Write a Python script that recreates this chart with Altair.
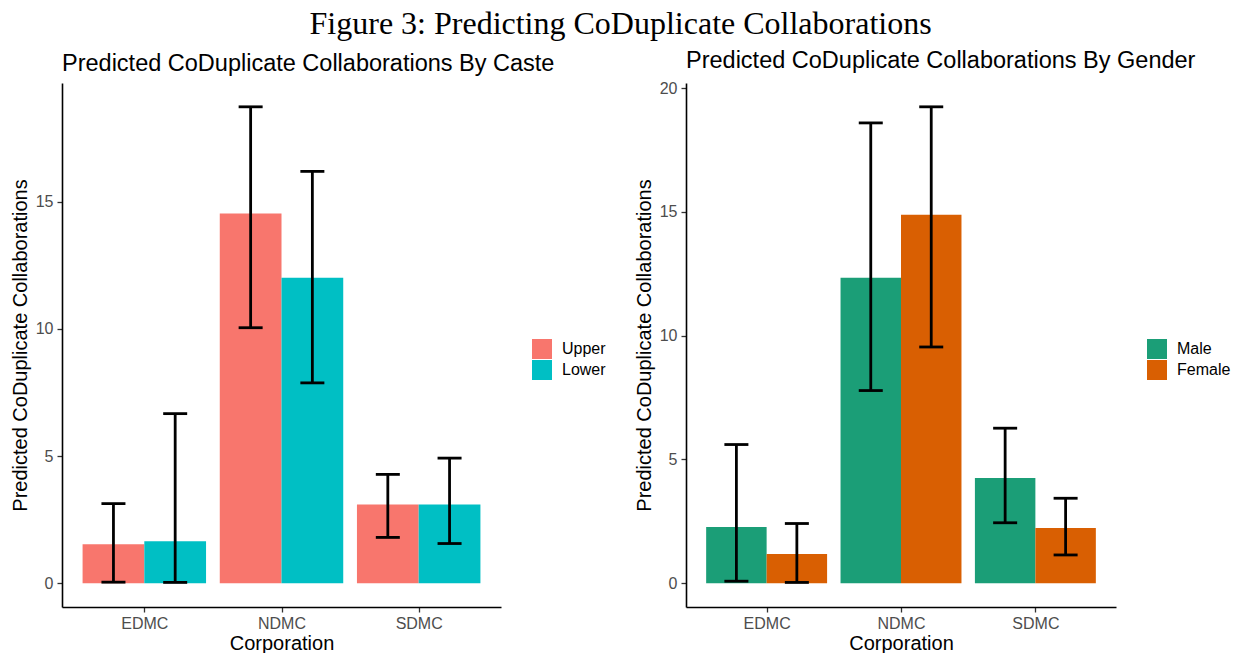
import altair as alt
import pandas as pd

# Corporations on the x axis
corporations = ["EDMC", "NDMC", "SDMC"]

# Predicted collaborations by caste, with confidence bounds
caste_groups = ["Upper", "Lower"]
caste_colors = ["#F8766D", "#00BFC4"]
upper_fit = [1.53, 14.54, 3.10]
upper_lo = [0.04, 10.05, 1.80]
upper_hi = [3.13, 18.74, 4.28]
lower_fit = [1.65, 12.02, 3.10]
lower_lo = [0.03, 7.88, 1.56]
lower_hi = [6.67, 16.20, 4.92]

# Predicted collaborations by gender, with confidence bounds
gender_groups = ["Male", "Female"]
gender_colors = ["#1B9E77", "#D95F02"]
male_fit = [2.27, 12.34, 4.25]
male_lo = [0.08, 7.78, 2.44]
male_hi = [5.60, 18.59, 6.26]
female_fit = [1.18, 14.88, 2.23]
female_lo = [0.03, 9.54, 1.14]
female_hi = [2.41, 19.24, 3.43]

FONT = "Liberation Sans"
DODGE = 0.9      # share of each category slot taken by its bars
EXPAND = 0.6     # discrete-axis expansion on either side


def build_frame(groups, fits, los, his):
    """Dodged bar layout: each corporation sits at 1, 2, 3 and its groups share DODGE."""
    bar_w = DODGE / len(groups)
    rows = []
    for j, (g, fit, lo, hi) in enumerate(zip(groups, fits, los, his)):
        for i, (c, f, l, h) in enumerate(zip(corporations, fit, lo, hi)):
            left = (i + 1) - DODGE / 2 + j * bar_w
            rows.append({
                "corporation": c, "group": g, "fit": f, "lo": l, "hi": h,
                "x0": left, "x1": left + bar_w, "xc": left + bar_w / 2,
            })
    return pd.DataFrame(rows)


def panel(df, groups, colors, title, width, y_ticks, legend_x, legend_y):
    top = df["hi"].max()
    pad = 0.05 * top
    y_scale = alt.Scale(domain=[-pad, top + pad], nice=False, zero=False)
    x_scale = alt.Scale(
        domain=[1 - EXPAND, len(corporations) + EXPAND], nice=False, zero=False
    )
    label_expr = "[" + ",".join(f"'{c}'" for c in corporations) + "][datum.value - 1]"
    x_axis = alt.Axis(
        values=list(range(1, len(corporations) + 1)),
        labelExpr=label_expr,
        labelAngle=0,
    )
    base = alt.Chart(df)

    bars = base.mark_bar().encode(
        x=alt.X("x0:Q", scale=x_scale, axis=x_axis, title="Corporation"),
        x2="x1:Q",
        y=alt.Y(
            "fit:Q",
            stack=None,
            scale=y_scale,
            title="Predicted CoDuplicate Collaborations",
            axis=alt.Axis(values=y_ticks),
        ),
        y2=alt.datum(0),
        color=alt.Color(
            "group:N",
            scale=alt.Scale(domain=groups, range=colors),
            legend=alt.Legend(
                title=None,
                orient="none",
                legendX=legend_x,
                legendY=legend_y,
                symbolType="square",
                symbolSize=400,
                symbolStrokeWidth=0,
                symbolOpacity=1,
                labelFontSize=16,
                labelFont=FONT,
                labelColor="black",
                labelOffset=10,
                rowPadding=1,
                padding=0,
            ),
        ),
    )

    whiskers = base.mark_rule(color="black", strokeWidth=2.8).encode(
        x=alt.X("xc:Q", scale=x_scale), y=alt.Y("lo:Q", scale=y_scale), y2="hi:Q"
    )
    cap_lo = base.mark_tick(
        color="black", size=24, thickness=2.8, opacity=1, orient="horizontal"
    ).encode(x=alt.X("xc:Q", scale=x_scale), y=alt.Y("lo:Q", scale=y_scale))
    cap_hi = base.mark_tick(
        color="black", size=24, thickness=2.8, opacity=1, orient="horizontal"
    ).encode(x=alt.X("xc:Q", scale=x_scale), y=alt.Y("hi:Q", scale=y_scale))

    return alt.layer(bars, whiskers, cap_lo, cap_hi).properties(
        width=width,
        height=524,
        title=alt.TitleParams(
            title,
            anchor="start",
            frame="group",
            font=FONT,
            fontSize=23.5,
            fontWeight="normal",
            color="black",
            offset=8,
        ),
    )


caste_df = build_frame(
    caste_groups,
    [upper_fit, lower_fit],
    [upper_lo, lower_lo],
    [upper_hi, lower_hi],
)
gender_df = build_frame(
    gender_groups,
    [male_fit, female_fit],
    [male_lo, female_lo],
    [male_hi, female_hi],
)

left = panel(
    caste_df, caste_groups, caste_colors,
    "Predicted CoDuplicate Collaborations By Caste",
    439, [0, 5, 10, 15], 470, 256,
)
right = panel(
    gender_df, gender_groups, gender_colors,
    "Predicted CoDuplicate Collaborations By Gender",
    430, [0, 5, 10, 15, 20], 461, 256,
)

chart = (
    alt.hconcat(left, right, spacing=28)
    .resolve_scale(color="independent", y="independent", x="independent")
    .resolve_legend(color="independent")
    .properties(
        title=alt.TitleParams(
            "Figure 3: Predicting CoDuplicate Collaborations",
            font="Liberation Serif",
            fontSize=32,
            fontWeight="normal",
            color="black",
            anchor="middle",
            offset=8,
        ),
        padding={"left": 10, "top": 7, "right": 5, "bottom": 0},
    )
    .configure_view(stroke=None)
    .configure_axis(
        grid=False,
        domainColor="black",
        domainWidth=1.6,
        tickColor="#333333",
        tickWidth=1.3,
        tickSize=5,
        labelColor="#4D4D4D",
        labelFont=FONT,
        labelFontSize=16,
        labelPadding=4,
        titleFont=FONT,
        titleFontSize=20,
        titleFontWeight="normal",
        titleColor="black",
    )
    .configure_axisX(titlePadding=2, labelPadding=3)
    .configure_axisY(titlePadding=5)
)

chart.save("out.html", embed_options={"renderer": "svg", "actions": False})
